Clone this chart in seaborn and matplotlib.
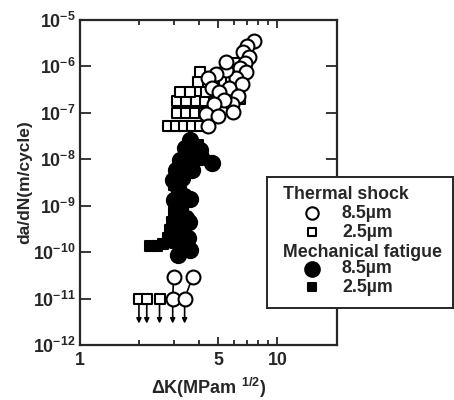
import numpy as np
import pandas as pd
import matplotlib
matplotlib.use("Agg")
import matplotlib.pyplot as plt
import seaborn as sns
from matplotlib.ticker import FixedLocator, FixedFormatter, NullFormatter

# ---- data ----
ts85_dk = [7.65, 7.05, 6.73, 7.22, 6.89, 6.43, 6.97, 6.14, 6.58, 5.72, 6.28, 5.86, 5.99,
           5.46, 4.86, 4.43, 4.64, 5.09, 5.34, 4.75, 4.33, 4.98, 5.46, 4.43]
ts85_rate = [3.5e-6, 2.75e-6, 2.0e-6, 1.6e-6, 1.2e-6, 9.3e-7, 7.6e-7, 5.6e-7, 4.2e-7, 3.4e-7,
             2.3e-7, 1.55e-7, 1.04e-7, 8.4e-7, 6.9e-7, 5.6e-7, 3.4e-7, 2.8e-7, 1.9e-7, 1.55e-7,
             9.4e-8, 8.5e-8, 1.24e-6, 5.2e-8]

ts25_dk = [2.78, 3.05, 3.35, 3.68, 4.04,
           3.09, 3.43, 3.81, 4.23, 4.70,
           3.09, 3.43, 3.85, 4.32, 4.80,
           3.20, 3.59, 4.33, 5.30,
           3.94, 4.80, 5.85,
           4.04, 6.14, 6.28, 6.43, 5.99]
ts25_rate = [5.2e-8, 5.2e-8, 5.2e-8, 5.2e-8, 5.2e-8,
             1.0e-7, 1.0e-7, 1.0e-7, 1.0e-7, 1.0e-7,
             1.8e-7, 1.8e-7, 1.8e-7, 1.8e-7, 1.8e-7,
             2.8e-7, 2.8e-7, 2.8e-7, 2.8e-7,
             4.6e-7, 4.6e-7, 4.6e-7,
             7.6e-7, 1.2e-6, 3.4e-7, 2.0e-7, 1.5e-7]

mf85_dk = [4.64, 4.04, 3.59, 3.39, 3.81, 3.20, 3.05, 3.27, 3.13, 3.35, 3.20, 3.43, 3.27,
           3.51, 3.20, 3.59, 3.13, 2.92, 3.00, 3.10, 3.55, 3.60, 2.95, 3.70, 4.10, 3.05]
mf85_rate = [8.3e-9, 1.58e-8, 2.6e-8, 1.74e-8, 1.06e-8, 9.6e-9, 5.8e-9, 3.9e-9, 2.4e-9,
             1.6e-9, 8.9e-10, 5.4e-10, 3.3e-10, 2.0e-10, 1.49e-10, 1.1e-10, 8.6e-11, 1.8e-10,
             1.3e-9, 7.0e-10, 4.5e-10, 1.4e-9, 3.5e-9, 6.0e-9, 1.1e-8, 2.2e-10]

mf25_dk = [2.26, 2.45, 2.63, 2.78, 2.85, 2.92, 2.98, 3.05, 2.98, 3.13, 3.27, 3.59, 3.94]
mf25_rate = [1.35e-10, 1.35e-10, 1.49e-10, 2.0e-10, 3.0e-10, 4.4e-10, 7.3e-10, 1.32e-9,
             2.8e-9, 4.6e-9, 7.5e-9, 1.23e-8, 2.0e-8]

# run-out points (no growth) with downward arrows
ro_sq_dk = [1.99, 2.18, 2.53]
ro_sq_rate = [1.0e-11, 1.0e-11, 1.0e-11]
ro_ci_dk = [2.95, 3.39]
ro_ci_rate = [1.0e-11, 1.0e-11]
ro_up_dk = [2.98, 3.72]
ro_up_rate = [2.9e-11, 2.9e-11]
arrow_tip_rate = 2.9e-12

xticks_major = [1, 5, 10]
xtick_labels = ["1", "5", "10"]
xticks_minor = [2, 3, 4, 6, 7, 8, 9, 20]
yticks = [1e-12, 1e-11, 1e-10, 1e-9, 1e-8, 1e-7, 1e-6, 1e-5]
ytick_labels = [r"$10^{-12}$", r"$10^{-11}$", r"$10^{-10}$", r"$10^{-9}$",
                r"$10^{-8}$", r"$10^{-7}$", r"$10^{-6}$", r"$10^{-5}$"]

# ---- style ----
sns.set_style("ticks")
plt.rcParams['font.family'] = ['Liberation Sans', 'DejaVu Sans']
plt.rcParams['font.weight'] = 'bold'
plt.rcParams['mathtext.fontset'] = 'custom'
plt.rcParams['mathtext.rm'] = 'Liberation Sans:bold'
plt.rcParams['mathtext.it'] = 'Liberation Sans:bold'
plt.rcParams['mathtext.bf'] = 'Liberation Sans:bold'
plt.rcParams['mathtext.sf'] = 'Liberation Sans:bold'

fig = plt.figure(figsize=(4.54, 4.0), dpi=100)
ax = fig.add_axes([0.176, 0.1375, 0.566, 0.8125])

lw = 1.5
df_ts85 = pd.DataFrame({"dk": ts85_dk, "rate": ts85_rate})
df_ts25 = pd.DataFrame({"dk": ts25_dk, "rate": ts25_rate})
df_mf85 = pd.DataFrame({"dk": mf85_dk, "rate": mf85_rate})
df_mf25 = pd.DataFrame({"dk": mf25_dk, "rate": mf25_rate})

sns.scatterplot(data=df_ts25, x="dk", y="rate", ax=ax, marker="s", s=42,
                facecolor="white", edgecolor="black", linewidth=lw, zorder=3)
sns.scatterplot(data=df_ts85, x="dk", y="rate", ax=ax, marker="o", s=100,
                facecolor="white", edgecolor="black", linewidth=lw, zorder=3)
sns.scatterplot(data=df_mf85, x="dk", y="rate", ax=ax, marker="o", s=120,
                color="black", edgecolor="black", linewidth=lw, zorder=4)
sns.scatterplot(data=df_mf25, x="dk", y="rate", ax=ax, marker="s", s=45,
                color="black", edgecolor="black", linewidth=lw, zorder=4)

# run-outs: arrows first
for xv, yv in zip(ro_sq_dk + ro_ci_dk, ro_sq_rate + ro_ci_rate):
    ax.annotate("", xy=(xv, arrow_tip_rate), xytext=(xv, yv),
                arrowprops=dict(arrowstyle="-|>", color="black", lw=1.2,
                                mutation_scale=7, shrinkA=0, shrinkB=0), zorder=2)
for xu, yu, xl, yl in zip(ro_up_dk, ro_up_rate, ro_ci_dk, ro_ci_rate):
    ax.plot([xu, xl], [yu, yl], color="black", lw=1.2, zorder=2)
ro_sq = pd.DataFrame({"dk": ro_sq_dk, "rate": ro_sq_rate})
ro_ci = pd.DataFrame({"dk": ro_ci_dk + ro_up_dk, "rate": ro_ci_rate + ro_up_rate})
sns.scatterplot(data=ro_sq, x="dk", y="rate", ax=ax, marker="s", s=42,
                facecolor="white", edgecolor="black", linewidth=lw, zorder=3)
sns.scatterplot(data=ro_ci, x="dk", y="rate", ax=ax, marker="o", s=100,
                facecolor="white", edgecolor="black", linewidth=lw, zorder=3)

ax.set_xscale("log")
ax.set_yscale("log")
ax.set_xlim(1, 20)
ax.set_ylim(1e-12, 1e-5)
ax.xaxis.set_major_locator(FixedLocator(xticks_major))
ax.xaxis.set_major_formatter(FixedFormatter(xtick_labels))
ax.xaxis.set_minor_locator(FixedLocator(xticks_minor))
ax.xaxis.set_minor_formatter(NullFormatter())
ax.yaxis.set_major_locator(FixedLocator(yticks))
ax.yaxis.set_major_formatter(FixedFormatter(ytick_labels))
ax.yaxis.set_minor_locator(FixedLocator([]))
ax.tick_params(which="both", direction="in", top=True, right=True, width=1.3,
               labelsize=12.8, pad=5)
ax.tick_params(axis="x", which="major", length=6)
ax.tick_params(axis="x", which="minor", length=3.5)
ax.tick_params(axis="y", which="major", length=8, pad=3)
for sp in ax.spines.values():
    sp.set_linewidth(1.6)
    sp.set_visible(True)
ax.set_xlabel(r"ΔK(MPam $^{1/2}$)", fontsize=13, fontweight="bold", labelpad=5)
ax.set_ylabel("da/dN(m/cycle)", fontsize=12.5, fontweight="bold", labelpad=1)

# ---- legend box ----
lax = fig.add_axes([0.588, 0.23, 0.41, 0.3275], zorder=10)
lax.set_xlim(0, 1)
lax.set_ylim(0, 1)
lax.set_xticks([])
lax.set_yticks([])
lax.set_facecolor("white")
for sp in lax.spines.values():
    sp.set_linewidth(1.4)
fs = 12.8
lax.text(0.086, 0.863, "Thermal shock", fontsize=fs, fontweight="bold", va="center", ha="left")
lax.text(0.086, 0.427, "Mechanical fatigue", fontsize=fs, fontweight="bold", va="center", ha="left")
rows = [(0.725, "o", "white", 80), (0.58, "s", "white", 30),
        (0.298, "o", "black", 110), (0.16, "s", "black", 30)]
for yy, mk, fc, sz in rows:
    lax.scatter([0.242], [yy], marker=mk, s=sz, facecolor=fc, edgecolor="black", linewidth=lw)
    lax.text(0.403, yy, "8.5µm" if mk == "o" else "2.5µm", fontsize=fs,
             fontweight="bold", va="center", ha="left")

fig.savefig("out.png", dpi=100)
